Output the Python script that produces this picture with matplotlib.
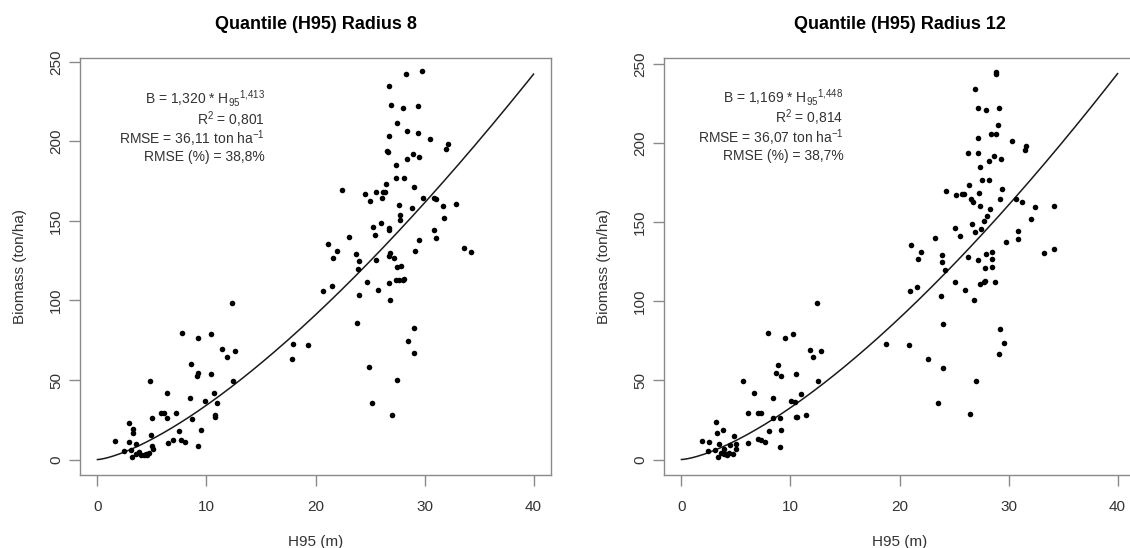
import numpy as np
import matplotlib
matplotlib.use("Agg")
import matplotlib.pyplot as plt

plt.rcParams["font.family"] = ["Liberation Sans", "DejaVu Sans"]
plt.rcParams["mathtext.default"] = "regular"

# Radius 8 plot data (H95 in m, biomass in ton/ha)
h95_r8 = [1.59, 2.48, 2.91, 2.88, 3.24, 3.24, 3.04, 3.21, 3.50, 3.57, 3.80, 4.03, 4.30, 4.46,
          4.69, 4.56, 4.89, 4.86, 5.02, 4.96, 5.09, 5.82, 6.15, 6.41, 6.38, 6.45, 6.94, 7.21,
          7.47, 7.74, 7.70, 8.00, 8.50, 8.60, 8.66, 9.09, 9.19, 9.22, 9.19, 9.49, 9.85, 10.38,
          10.38, 10.68, 10.81, 10.81, 10.98, 11.47, 11.87, 12.30, 12.60, 12.40, 17.85, 17.95,
          19.34, 20.73, 21.19, 21.49, 21.59, 21.95, 22.45, 23.07, 23.67, 23.83, 23.90, 24.00,
          24.00, 24.50, 24.73, 24.99, 24.93, 25.19, 25.29, 25.49, 25.55, 25.59, 25.72, 26.02,
          26.12, 26.15, 26.38, 26.51, 26.58, 26.61, 26.71, 26.78, 26.71, 26.78, 26.71, 26.84,
          26.78, 26.84, 26.88, 27.00, 27.17, 27.34, 27.40, 27.47, 27.47, 27.47, 27.37, 27.64,
          27.70, 27.77, 27.77, 27.87, 28.00, 28.07, 28.10, 28.13, 28.30, 28.40, 28.43, 28.50,
          28.83, 28.93, 29.02, 29.02, 29.02, 29.09, 29.36, 29.42, 29.52, 29.52, 29.75, 29.82,
          30.48, 30.84, 30.91, 31.01, 31.04, 31.67, 31.80, 32.00, 32.13, 32.93, 33.59, 34.28]
biomass_r8 = [11.6, 5.1, 23.1, 10.8, 19.1, 16.5, 5.9, 1.8, 9.9, 3.3, 4.6, 2.9, 3.1, 3.7,
              4.0, 2.9, 15.2, 49.4, 26.1, 8.3, 6.8, 29.2, 29.2, 41.7, 26.4, 10.3, 12.5, 29.2,
              18.2, 79.7, 12.5, 11.2, 38.9, 59.8, 25.7, 52.3, 54.5, 76.7, 8.3, 18.7, 37.1, 79.1,
              54.0, 41.7, 28.1, 27.0, 35.6, 69.2, 64.4, 98.6, 68.3, 49.4, 63.3, 72.7,
              72.3, 106.1, 135.8, 109.2, 126.8, 131.2, 169.6, 140.2, 129.4, 86.1, 119.5, 124.6,
              103.5, 167.0, 111.8, 162.6, 58.0, 35.6, 146.3, 141.3, 168.1, 125.7, 106.8, 148.9,
              164.5, 168.1, 168.1, 172.9, 194.0, 193.5, 203.2, 234.6, 145.7, 144.1, 128.1, 129.6,
              110.9, 100.6, 223.0, 28.3, 126.8, 185.4, 176.8, 211.3, 120.8, 49.9, 113.1, 160.1,
              112.9, 154.0, 150.5, 121.5, 113.1, 221.2, 176.8, 113.6, 242.5, 206.3, 188.7, 74.3,
              158.0, 192.0, 171.1, 82.4, 66.8, 131.2, 205.4, 222.5, 190.2, 137.7, 244.5, 164.5,
              201.7, 164.5, 144.3, 163.7, 139.1, 159.3, 151.6, 194.9, 198.4, 160.4, 132.9, 130.7]

# Radius 12 plot data
h95_r12 = [1.92, 2.48, 2.55, 3.17, 3.24, 3.11, 3.34, 3.47, 3.80, 3.60, 3.90, 3.87, 4.07, 4.20,
           4.36, 4.46, 4.69, 4.79, 4.99, 5.02, 5.65, 6.12, 6.15, 6.64, 6.98, 7.04, 7.34, 7.34,
           7.67, 7.90, 8.07, 8.43, 8.43, 8.69, 8.89, 9.02, 9.16, 9.09, 9.02, 9.49, 10.08, 10.25,
           10.41, 10.48, 10.51, 10.64, 10.94, 11.44, 11.80, 12.03, 12.40, 12.50, 12.83, 18.74,
           20.89, 20.99, 21.06, 21.65, 21.72, 21.95, 22.61, 23.27, 23.57, 23.77, 23.90, 23.93,
           23.97, 24.00, 24.20, 24.30, 25.06, 25.12, 25.19, 25.52, 25.69, 25.88, 26.05, 26.25,
           26.31, 26.41, 26.55, 26.61, 26.71, 26.81, 26.91, 26.94, 26.98, 26.51, 27.17, 27.21,
           27.21, 27.24, 27.27, 27.34, 27.40, 27.40, 27.50, 27.57, 27.77, 27.83, 27.83, 27.77,
           27.93, 27.93, 28.07, 28.17, 28.17, 28.26, 28.36, 28.50, 28.50, 28.50, 28.66, 28.73,
           28.86, 28.86, 28.89, 28.99, 29.12, 29.09, 29.26, 29.26, 29.32, 29.42, 29.59, 29.75,
           30.31, 30.71, 30.88, 30.84, 31.24, 31.54, 31.64, 32.10, 32.43, 33.29, 34.15, 34.21]
biomass_r12 = [11.7, 5.1, 10.9, 23.5, 16.6, 6.0, 1.8, 10.0, 18.6, 4.0, 6.6, 3.3, 3.3, 2.9,
               4.0, 8.9, 3.8, 14.8, 10.0, 6.9, 49.4, 29.5, 10.4, 42.1, 12.8, 29.5, 29.5, 12.2,
               11.1, 80.2, 18.2, 38.8, 26.1, 54.7, 59.8, 26.1, 52.7, 18.8, 8.2, 76.6, 37.0, 79.3,
               36.1, 54.3, 27.2, 26.6, 41.6, 28.3, 69.3, 64.7, 98.8, 49.4, 68.4, 73.1,
               72.4, 106.3, 136.0, 109.4, 126.9, 131.3, 63.6, 140.2, 35.9, 103.6, 125.1, 129.5,
               85.9, 58.0, 119.6, 170.1, 146.4, 112.3, 167.2, 141.1, 168.1, 168.1, 107.0, 193.8,
               127.8, 173.4, 165.0, 149.2, 163.2, 100.8, 143.9, 234.7, 49.8, 28.6, 203.3, 222.5,
               194.2, 126.0, 168.3, 160.5, 185.3, 111.2, 145.7, 176.7, 112.3, 112.9, 121.1, 150.8,
               221.2, 130.0, 153.9, 188.7, 176.7, 158.3, 206.2, 131.3, 126.7, 122.0, 191.8, 112.3,
               205.7, 243.8, 245.1, 211.5, 222.5, 66.9, 82.4, 164.5, 190.4, 171.4, 74.0, 137.7,
               201.7, 164.7, 144.6, 139.3, 163.0, 195.5, 198.4, 152.1, 159.7, 130.6, 160.5, 133.1]

# fitted power models B = a * H95^b
coef_r8 = (1.320, 1.413)
coef_r12 = (1.169, 1.448)

stats_r8 = ["B = 1,320 * H$_{95}$$^{1{,}413}$", "R$^{2}$ = 0,801",
            "RMSE = 36,11 ton ha$^{-1}$", "RMSE (%) = 38,8%"]
stats_r12 = ["B = 1,169 * H$_{95}$$^{1{,}448}$", "R$^{2}$ = 0,814",
             "RMSE = 36,07 ton ha$^{-1}$", "RMSE (%) = 38,7%"]

titles = ["Quantile (H95) Radius 8", "Quantile (H95) Radius 12"]

W, H = 1130, 548
fig = plt.figure(figsize=(W / 100, H / 100), dpi=100)


def px_axes(left, top, right, bottom):
    return fig.add_axes([left / W, 1 - bottom / H, (right - left) / W, (bottom - top) / H])


def draw_panel(ax, x, y, coef, stats, title, ylim, text_x, text_ys):
    grey = "#8a8a8a"
    ax.scatter(x, y, s=16, color="black", linewidths=0, zorder=3)
    hh = np.linspace(0, 40, 200)
    ax.plot(hh, coef[0] * hh ** coef[1], color="#1a1a1a", lw=1.1)

    ax.set_xlim(-1.6, 41.6)
    ax.set_ylim(*ylim)
    ax.set_xticks([0, 10, 20, 30, 40])
    ax.set_yticks([0, 50, 100, 150, 200, 250])
    for sp in ax.spines.values():
        sp.set_color(grey)
        sp.set_linewidth(1.0)
    ax.tick_params(axis="both", length=8, width=1.0, color=grey,
                   labelsize=11, labelcolor="#333333")
    ax.tick_params(axis="x", pad=10)
    ax.tick_params(axis="y", pad=4)
    for lab in ax.get_yticklabels():
        lab.set_rotation(90)
        lab.set_va("center")

    ax.set_title(title, fontsize=13, fontweight="bold", pad=21)
    ax.text(0.5, -0.145, "H95 (m)", transform=ax.transAxes, ha="center", va="top",
            fontsize=11, color="#333333")
    ax.text(-0.128, 0.5, "Biomass (ton/ha)", transform=ax.transAxes, rotation=90,
            ha="center", va="center", fontsize=11, color="#333333")

    for line, ty in zip(stats, text_ys):
        ax.text(text_x, ty, line, transform=ax.transAxes, ha="right", va="center",
                fontsize=10, color="#333333")


ax1 = px_axes(80, 58, 551, 475)
draw_panel(ax1, h95_r8, biomass_r8, coef_r8, stats_r8, titles[0], (-9.7, 252.4),
           0.393, [0.902, 0.852, 0.806, 0.762])

ax2 = px_axes(664, 58, 1135, 475)
draw_panel(ax2, h95_r12, biomass_r12, coef_r12, stats_r12, titles[1], (-9.8, 254.0),
           0.381, [0.906, 0.856, 0.810, 0.766])

fig.savefig("out.png", dpi=100)
